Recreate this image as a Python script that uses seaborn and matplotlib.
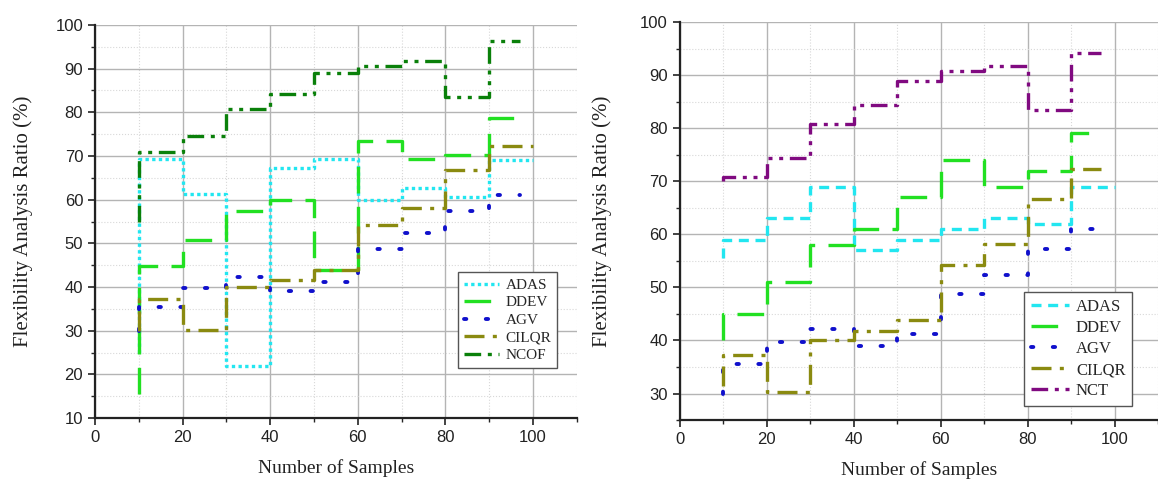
import matplotlib
matplotlib.use("Agg")
import matplotlib.pyplot as plt
from matplotlib.ticker import MultipleLocator
import seaborn as sns
import pandas as pd

# ---------------- data ----------------
step_x = [10, 20, 30, 40, 50, 60, 70, 80, 90]

# left panel
left_start = {"ADAS": 25.0, "DDEV": 15.5, "AGV": 30.0, "CILQR": 30.0, "NCOF": 55.0}
left_vals = {
    "ADAS":  [69.3, 61.4, 22.0, 67.3, 69.3, 60.0, 62.7, 60.7, 69.0],
    "DDEV":  [44.8, 50.8, 57.5, 60.0, 44.0, 73.5, 69.2, 70.3, 78.8],
    "AGV":   [35.5, 39.8, 42.2, 39.0, 41.2, 48.8, 52.3, 57.3, 61.0],
    "CILQR": [37.2, 30.2, 40.0, 41.7, 44.0, 54.2, 58.2, 66.7, 72.3],
    "NCOF":  [71.0, 74.5, 80.8, 84.3, 89.0, 90.7, 91.8, 83.5, 96.3],
}
left_end = {"ADAS": 100, "DDEV": 97, "AGV": 97, "CILQR": 100, "NCOF": 97}

# right panel
right_start = {"ADAS": 55.5, "DDEV": 40.0, "AGV": 30.0, "CILQR": 31.5, "NCT": 70.0}
right_vals = {
    "ADAS":  [59.0, 63.0, 69.0, 57.0, 59.0, 61.0, 63.0, 62.0, 69.0],
    "DDEV":  [45.0, 51.0, 58.0, 61.0, 67.0, 74.0, 69.0, 72.0, 79.0],
    "AGV":   [35.5, 39.8, 42.2, 39.0, 41.3, 48.8, 52.3, 57.3, 61.0],
    "CILQR": [37.2, 30.3, 40.0, 41.8, 43.8, 54.2, 58.2, 66.7, 72.3],
    "NCT":   [70.8, 74.4, 80.8, 84.3, 88.9, 90.7, 91.8, 83.4, 94.2],
}
right_end = {"ADAS": 100, "DDEV": 97, "AGV": 97, "CILQR": 97, "NCT": 97}

x_ticks = [0, 20, 40, 60, 80, 100]
x_label = "Number of Samples"
y_label = "Flexibility Analysis Ratio (%)"

# ---------------- styles ----------------
colors = {"ADAS": "#22e6f0", "DDEV": "#22e022", "AGV": "#1010cc",
          "CILQR": "#8a8a10", "NCOF": "#0a800a", "NCT": "#800a80"}
left_styles = {"ADAS": (0, (1, 1)), "DDEV": (0, (8, 4)), "AGV": (0, (0.6, 5)),
               "CILQR": (0, (6, 2.5, 1.2, 2.5)), "NCOF": (0, (5, 2, 1.2, 2, 1.2, 2))}
right_styles = {"ADAS": (0, (3, 2)), "DDEV": (0, (8, 4)), "AGV": (0, (0.6, 5)),
                "CILQR": (0, (6, 2.5, 1.2, 2.5)), "NCT": (0, (5, 2, 1.2, 2, 1.2, 2))}

sns.set_theme(style="white")
plt.rcParams["font.family"] = ["Liberation Sans", "DejaVu Sans"]

fig = plt.figure(figsize=(11.58, 4.79), dpi=100)
axL = fig.add_axes([0.082, 0.127, 0.416, 0.821])
axR = fig.add_axes([0.587, 0.123, 0.413, 0.831])

serif = ["Liberation Serif", "DejaVu Serif"]


def draw(ax, starts, vals, ends, styles, names, ylim, yticks_major, ylabelpad):
    for name in names:
        xs = [step_x[0]] + step_x + [ends[name]]
        ys = [starts[name]] + vals[name] + [vals[name][-1]]
        df = pd.DataFrame({"x": xs, "y": ys})
        extra = {"dash_capstyle": "round"} if name == "AGV" else {}
        sns.lineplot(data=df, x="x", y="y", ax=ax, sort=False, estimator=None,
                     drawstyle="steps-post", color=colors[name],
                     linewidth=2.8 if name == "AGV" else 2.4,
                     linestyle=styles[name], label=name, **extra)
    ax.set_xlim(0, 110)
    ax.set_ylim(*ylim)
    ax.set_xticks(x_ticks)
    ax.xaxis.set_minor_locator(MultipleLocator(10))
    ax.set_yticks(yticks_major)
    ax.yaxis.set_minor_locator(MultipleLocator(5))
    ax.grid(True, which="major", color="#b4b4b4", linewidth=1.0)
    ax.grid(True, which="minor", color="#d8d8d8", linewidth=0.8, linestyle=":")
    ax.tick_params(axis="both", which="major", direction="out", length=5, width=1.2,
                   labelsize=12, colors="#222222", bottom=True, left=True)
    ax.tick_params(axis="both", which="minor", direction="out", length=3, width=1.0,
                   bottom=True, left=True)
    for side in ["top", "right"]:
        ax.spines[side].set_visible(False)
    for side in ["left", "bottom"]:
        ax.spines[side].set_color("#222222")
        ax.spines[side].set_linewidth(1.6)
    ax.set_xlabel(x_label, fontsize=14, family=serif, color="#222222", labelpad=10)
    ax.set_ylabel(y_label, fontsize=15, family=serif, color="#222222", labelpad=ylabelpad)


draw(axL, left_start, left_vals, left_end, left_styles,
     ["ADAS", "DDEV", "AGV", "CILQR", "NCOF"], (10, 100), list(range(10, 101, 10)), 16)
draw(axR, right_start, right_vals, right_end, right_styles,
     ["ADAS", "DDEV", "AGV", "CILQR", "NCT"], (25, 100), list(range(30, 101, 10)), 20)

for ax, anchor, fs, ls in [(axL, (0.738, 0.108), 11, 0.25), (axR, (0.703, 0.015), 12, 0.3)]:
    leg = ax.legend(loc="lower left", bbox_to_anchor=anchor, frameon=True, fancybox=False,
                    framealpha=1, edgecolor="#555555", prop={"family": serif, "size": fs},
                    handlelength=2.3, handletextpad=0.4, labelspacing=ls,
                    borderpad=0.4)
    leg.get_frame().set_linewidth(1.0)

fig.savefig("out.png", dpi=100)
